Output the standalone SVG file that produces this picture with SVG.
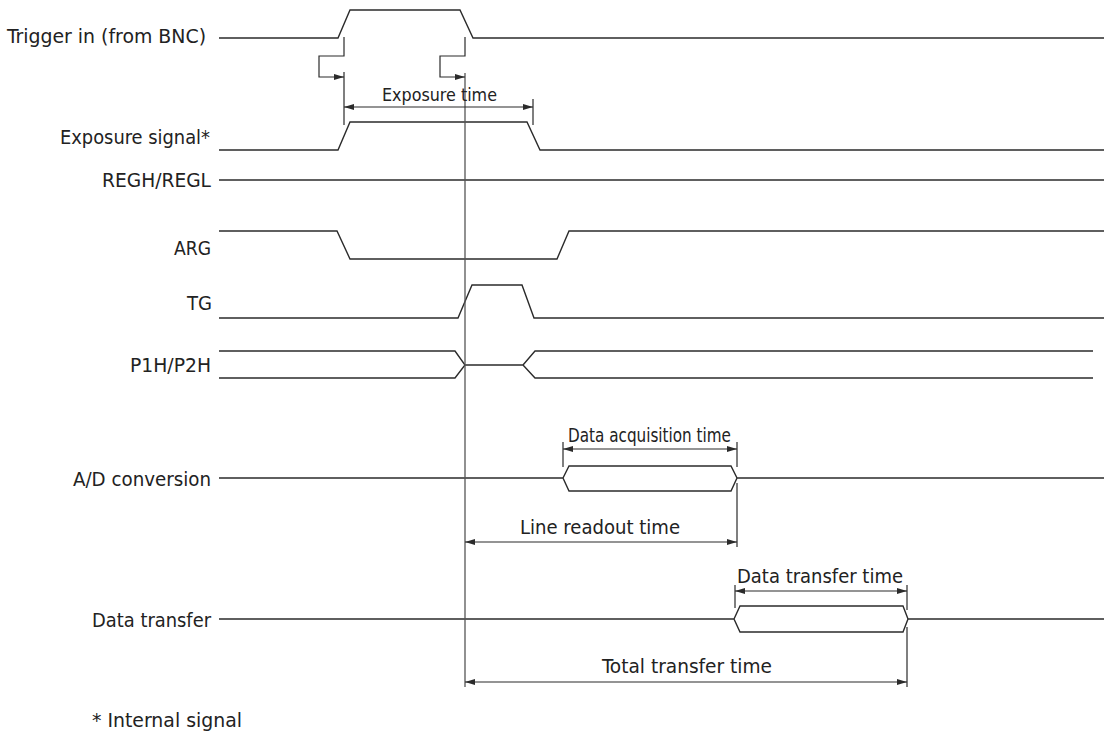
<svg xmlns="http://www.w3.org/2000/svg" width="1106" height="733" viewBox="0 0 1106 733">
<style>
.sig{fill:none;stroke:#2b2b2b;stroke-width:1.4;stroke-linejoin:miter}
.dim{fill:none;stroke:#2b2b2b;stroke-width:1.2}
.ref{fill:none;stroke:#555;stroke-width:1.3}
.lbl{font-family:"DejaVu Sans Condensed","DejaVu Sans",sans-serif;font-size:20px;fill:#222;text-anchor:end}
.dl{font-family:"DejaVu Sans Condensed","DejaVu Sans",sans-serif;font-size:20px;fill:#222;text-anchor:middle}
</style>
<defs>
<marker id="ah" viewBox="0 0 10 6" refX="10" refY="3" markerWidth="10" markerHeight="6" markerUnits="userSpaceOnUse" orient="auto-start-reverse">
<path d="M0,0 L10,3 L0,6 Z" fill="#2b2b2b"/>
</marker>
</defs>
<rect width="1106" height="733" fill="#fff"/>

<g id="labels">
<text class="lbl" x="206" y="43" textLength="199" lengthAdjust="spacingAndGlyphs">Trigger in (from BNC)</text>
<text class="lbl" x="210" y="144" textLength="150" lengthAdjust="spacingAndGlyphs">Exposure signal*</text>
<text class="lbl" x="211" y="187" textLength="109" lengthAdjust="spacingAndGlyphs">REGH/REGL</text>
<text class="lbl" x="211" y="255" textLength="37" lengthAdjust="spacingAndGlyphs">ARG</text>
<text class="lbl" x="212" y="310" textLength="25" lengthAdjust="spacingAndGlyphs">TG</text>
<text class="lbl" x="211" y="372" textLength="81" lengthAdjust="spacingAndGlyphs">P1H/P2H</text>
<text class="lbl" x="211" y="486" textLength="138" lengthAdjust="spacingAndGlyphs">A/D conversion</text>
<text class="lbl" x="211" y="627" textLength="119" lengthAdjust="spacingAndGlyphs">Data transfer</text>
<text class="lbl" x="92" y="727" style="text-anchor:start" textLength="150" lengthAdjust="spacingAndGlyphs">* Internal signal</text>
</g>

<g id="sig-trigger"><path class="sig" d="M219,38 H338 L350,10 H460 L473,38 H1104"/></g>
<g id="sig-exposure"><path class="sig" d="M219,150 H338 L350,122 H527 L540,150 H1104"/></g>
<g id="sig-regh"><path class="sig" d="M219,180 H1104"/></g>
<g id="sig-arg"><path class="sig" d="M219,231 H337 L350,259 H557 L569,231 H1104"/></g>
<g id="sig-tg"><path class="sig" d="M219,318 H458 L472,285 H522 L534,318 H1104"/></g>
<g id="sig-p1h"><path class="sig" d="M219,351 H455 L465,365 L455,378 H219 M465,365 H523 L535,351 H1093 M523,365 L535,378 H1093"/></g>
<g id="sig-ad"><path class="sig" d="M219,478 H563 M563,478 L569,466 H731 L737,478 L731,491 H569 Z M737,478 H1104"/></g>
<g id="sig-data"><path class="sig" d="M219,619 H734 M734,619 L740,606 H903 L908,619 L903,632 H740 Z M908,619 H1104"/></g>

<g id="connectors">
<path class="ref" d="M465,73 V687"/>
<path class="dim" d="M344,37 V56 H319 V77 H344" marker-end="url(#ah)"/>
<path class="dim" d="M465,37 V56 H440 V77 H465" marker-end="url(#ah)"/>
<path class="dim" d="M344,72 V125 M533,99 V125"/>
<path class="dim" d="M344,107 H533" marker-start="url(#ah)" marker-end="url(#ah)"/>
<path class="dim" d="M563,442 V467 M737,442 V467 M737,483 V547"/>
<path class="dim" d="M563,449 H737" marker-start="url(#ah)" marker-end="url(#ah)"/>
<path class="dim" d="M465,542 H737" marker-start="url(#ah)" marker-end="url(#ah)"/>
<path class="dim" d="M735,585 V608 M907,585 V610 M907,627 V687"/>
<path class="dim" d="M735,591 H907" marker-start="url(#ah)" marker-end="url(#ah)"/>
<path class="dim" d="M465,682 H907" marker-start="url(#ah)" marker-end="url(#ah)"/>
</g>

<g id="dim-labels">
<text class="dl" x="439.5" y="101" style="font-size:18px" textLength="115" lengthAdjust="spacingAndGlyphs">Exposure time</text>
<text class="dl" x="649.5" y="442" textLength="163" lengthAdjust="spacingAndGlyphs">Data acquisition time</text>
<text class="dl" x="600" y="534" textLength="160" lengthAdjust="spacingAndGlyphs">Line readout time</text>
<text class="dl" x="820" y="583" textLength="166" lengthAdjust="spacingAndGlyphs">Data transfer time</text>
<text class="dl" x="687" y="673" textLength="170" lengthAdjust="spacingAndGlyphs">Total transfer time</text>
</g>
</svg>
